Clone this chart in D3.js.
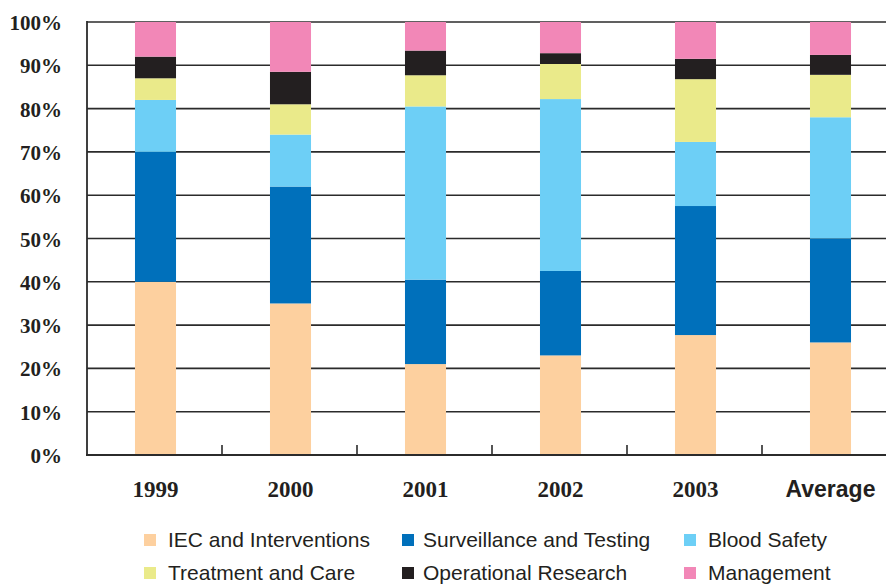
<!DOCTYPE html>
<html>
<head>
<meta charset="utf-8">
<script src="https://cdn.jsdelivr.net/npm/d3@7"></script>
<style>
  html, body { margin: 0; padding: 0; background: #fff; }
  svg { display: block; }
</style>
</head>
<body>
<svg id="chart" width="886" height="585"></svg>
<script>
// ---- Data ----
const categories = ["1999", "2000", "2001", "2002", "2003", "Average"];
const seriesNames = ["IEC and Interventions", "Surveillance and Testing", "Blood Safety",
                     "Treatment and Care", "Operational Research", "Management"];
const iec          = [40, 35, 21, 23, 27.7, 26];
const surveillance = [30, 27, 19.5, 19.5, 29.8, 24];
const bloodSafety  = [12, 12, 40, 39.7, 14.8, 28];
const treatment    = [5, 7, 7.2, 8.1, 14.5, 9.8];
const opResearch   = [5, 7.5, 5.7, 2.5, 4.7, 4.6];
const management   = [8, 11.5, 6.6, 7.2, 8.5, 7.6];
const yTicks = [0, 10, 20, 30, 40, 50, 60, 70, 80, 90, 100];
const colors = ["#FDD09F", "#0070BB", "#6DCFF6", "#EAEA8A", "#231F20", "#F287B7"];

(function () {
// ---- Build table ----
const seriesValues = [iec, surveillance, bloodSafety, treatment, opResearch, management];
const table = categories.map((c, i) => {
  const row = { cat: c };
  seriesNames.forEach((s, j) => row[s] = seriesValues[j][i]);
  return row;
});
const stacked = d3.stack().keys(seriesNames)(table);

// ---- Layout ----
const svg = d3.select("#chart");
const mLeft = 88, mRight = 898, mTop = 22, mBottom = 455;
const x = d3.scaleBand().domain(categories).range([mLeft, mRight]).padding(0);
const y = d3.scaleLinear().domain([0, 100]).range([mBottom, mTop]);
const barW = x.step() * 0.304;
const ink = "#231F20";

// gridlines
svg.append("g").selectAll("line").data(yTicks.filter(t => t > 0)).join("line")
  .attr("x1", mLeft - 1).attr("x2", 886)
  .attr("y1", d => y(d)).attr("y2", d => y(d))
  .attr("stroke", "#2b2b2b").attr("stroke-width", 1.6);

// bars
svg.append("g").selectAll("g").data(stacked).join("g")
  .attr("fill", (d, i) => colors[i])
  .selectAll("rect").data(d => d).join("rect")
  .attr("x", d => x(d.data.cat) + x.bandwidth() / 2 - barW / 2)
  .attr("width", barW)
  .attr("y", d => y(d[1]))
  .attr("height", d => y(d[0]) - y(d[1]));

// axes lines
svg.append("line").attr("x1", mLeft - 1).attr("x2", mLeft - 1).attr("y1", mTop - 1).attr("y2", mBottom + 1)
  .attr("stroke", "#2b2b2b").attr("stroke-width", 1.8);
svg.append("line").attr("x1", mLeft - 2).attr("x2", 886).attr("y1", mBottom).attr("y2", mBottom)
  .attr("stroke", "#2b2b2b").attr("stroke-width", 1.8);

// category boundary ticks
svg.append("g").selectAll("line").data(categories.slice(1)).join("line")
  .attr("x1", d => x(d) - 1).attr("x2", d => x(d) - 1)
  .attr("y1", mBottom).attr("y2", mBottom - 10)
  .attr("stroke", "#2b2b2b").attr("stroke-width", 1.6);

// y tick labels
svg.append("g").selectAll("text").data(yTicks).join("text")
  .attr("x", 62).attr("y", d => y(d) + 8)
  .attr("text-anchor", "end")
  .attr("font-family", "'Liberation Serif', 'Times New Roman', serif")
  .attr("font-weight", "bold").attr("font-size", 21).attr("fill", ink)
  .text(d => d + "%");

// x labels
svg.append("g").selectAll("text").data(categories).join("text")
  .attr("x", d => x(d) + x.bandwidth() / 2)
  .attr("y", 497)
  .attr("text-anchor", "middle")
  .attr("font-family", d => d === "Average" ? "'Liberation Sans', Arial, sans-serif" : "'Liberation Serif', 'Times New Roman', serif")
  .attr("font-weight", "bold")
  .attr("font-size", 23)
  .attr("fill", ink)
  .text(d => d);

// legend
const legX = [144, 402, 684];
const legTextX = [168, 423, 708];
const legY = [547, 580];
const leg = svg.append("g").selectAll("g").data(seriesNames).join("g")
  .attr("transform", (d, i) => `translate(${legX[i % 3]},${legY[Math.floor(i / 3)]})`);
leg.append("rect").attr("x", 0).attr("y", -13).attr("width", 12).attr("height", 12)
  .attr("fill", (d, i) => colors[i]);
leg.append("text")
  .attr("x", (d, i) => legTextX[i % 3] - legX[i % 3])
  .attr("font-family", "'Liberation Sans', Arial, sans-serif")
  .attr("font-size", 21).attr("fill", ink)
  .text(d => d);
})();
</script>
</body>
</html>
